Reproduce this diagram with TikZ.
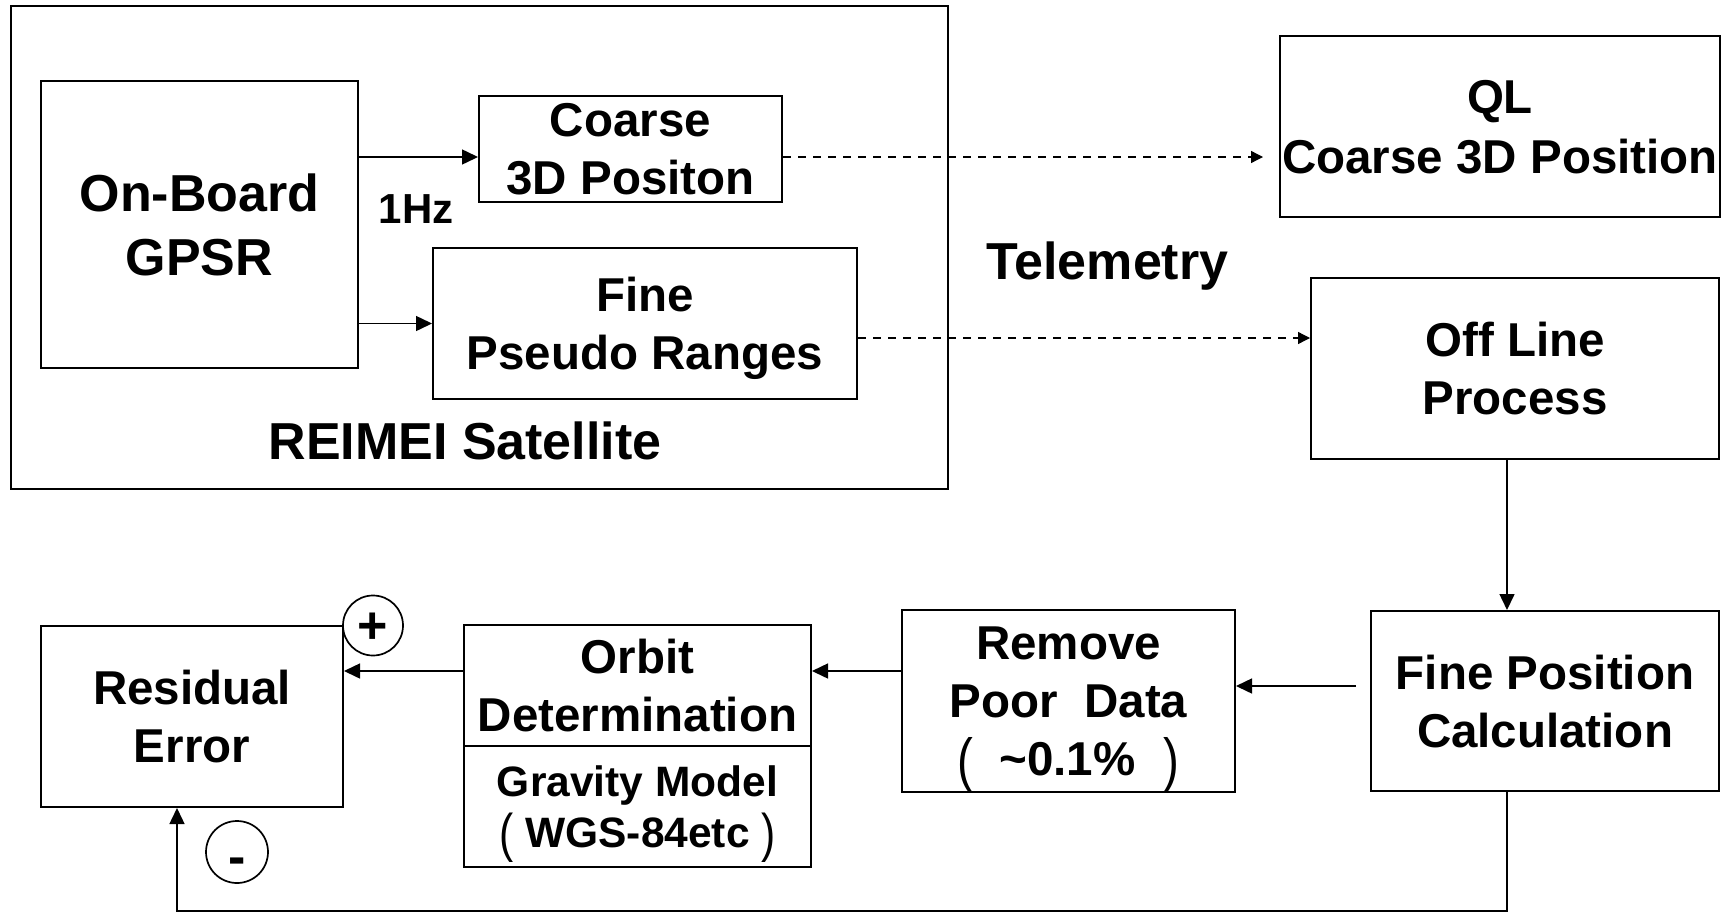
\documentclass[tikz,border=0pt]{standalone}
\usepackage{fontspec}
\usepackage{graphicx}
\setmainfont{Liberation Sans}
\usetikzlibrary{arrows.meta}
\newcommand{\tallpar}[1]{\raisebox{-.1em}{\scalebox{1}[1.25]{\mdseries#1}}}

\begin{document}
\begin{tikzpicture}[x=1pt, y=-1pt,
	blk/.style={draw, line width=2pt, inner sep=0pt, align=center, text depth=0pt,
		font=\bfseries\fontsize{47.5}{58}\selectfont},
	lbl/.style={inner sep=0pt, font=\bfseries\fontsize{52}{62}\selectfont},
	sgn/.style={draw, fill=white, circle, line width=1.7pt, inner sep=0pt, minimum size=60pt,
		text depth=0pt, font=\bfseries\fontsize{52}{62}\selectfont},
	arr/.style={line width=1.5pt, -{Triangle[length=16pt, width=15pt]}},
	tele/.style={line width=1.3pt, dash pattern=on 8pt off 7pt, -{Triangle[length=12pt, width=12pt]}}]
	\useasboundingbox (0,0) rectangle (1726,913);
	\node[blk, minimum width=937pt, minimum height=483pt] (sat) at (479.5,247.5) {};
	\node[blk, minimum width=317pt, minimum height=287pt, font=\bfseries\fontsize{52}{64}\selectfont] (gpsr) at (199.5,224.5) {On-Board\\GPSR};
	\node[blk, minimum width=303pt, minimum height=106pt] (coarse) at (630.5,149) {Coarse\\3D Positon};
	\node[blk, minimum width=424pt, minimum height=151pt] (fine) at (645,323.5) {Fine\\Pseudo Ranges};
	\node[lbl, font=\bfseries\fontsize{42}{50}\selectfont] (hz) at (416,209) {1Hz};
	\node[lbl] (satname) at (465,441) {REIMEI Satellite};
	% ground
	\node[blk, minimum width=440pt, minimum height=181pt, font=\bfseries\fontsize{47.5}{60}\selectfont] (ql) at (1500,126.5) {QL\\Coarse 3D Position};
	\node[lbl, anchor=base] (tlm) at (1107.5,279) {Telemetry};
	\node[blk, minimum width=408pt, minimum height=181pt] (offline) at (1515,368.5) {Off Line\\Process};
	\node[blk, minimum width=348pt, minimum height=180pt] (finepos) at (1545,701) {Fine Position\\Calculation};
	\node[blk, minimum width=333pt, minimum height=182pt] (remove) at (1068.5,701) {Remove\\Poor\ \ Data\\\tallpar{(}\hspace{.55em}\textasciitilde0.1\%\hspace{.6em}\tallpar{)}};
	\node[blk, minimum width=347pt, minimum height=121pt, font=\bfseries\fontsize{42.5}{51}\selectfont] (gravity) at (637.5,806.5) {Gravity Model\\\tallpar{(}\ WGS-84etc\ \tallpar{)}};
	\node[blk, minimum width=347pt, minimum height=121pt] (orbit) at (637.5,685.5) {Orbit\\Determination};
	\node[blk, minimum width=302pt, minimum height=181pt] (residual) at (192,716.5) {Residual\\Error};
	\node[sgn, text height=35.4pt] (plus) at (373,625.5) {+};
	\node[sgn, text height=45pt, minimum size=62pt] (minus) at (237,852) {-};
	\coordinate (floor) at (0,911);

	\draw[arr] ([yshift=-8pt]gpsr.east |- coarse.west) -- ([yshift=-8pt]coarse.west);
	\draw[arr] (gpsr.east |- fine.west) -- (fine.west);
	\draw[tele] ([yshift=-8pt]coarse.east) -- ([xshift=-16pt, yshift=-8pt]ql.west |- coarse.east);
	\draw[tele] ([yshift=-14.5pt]fine.east) -- ([yshift=-14.5pt]offline.west |- fine.east);
	\draw[arr] ([xshift=-8pt]offline.south) -- ([xshift=-8pt]offline.south |- finepos.north);
	\draw[arr] ([xshift=-14pt, yshift=15pt]finepos.west) -- ([yshift=15pt]finepos.west -| remove.east);
	\draw[arr] ([yshift=30pt]remove.west) -- ([yshift=30pt]remove.west -| orbit.east);
	\draw[arr] ([yshift=14.5pt]orbit.west) -- ([yshift=14.5pt]orbit.west -| residual.east);
	\draw[arr] ([xshift=-38pt]finepos.south) -- ([xshift=-38pt]finepos.south |- floor) -| ([xshift=-15pt]residual.south);
\end{tikzpicture}
\end{document}
